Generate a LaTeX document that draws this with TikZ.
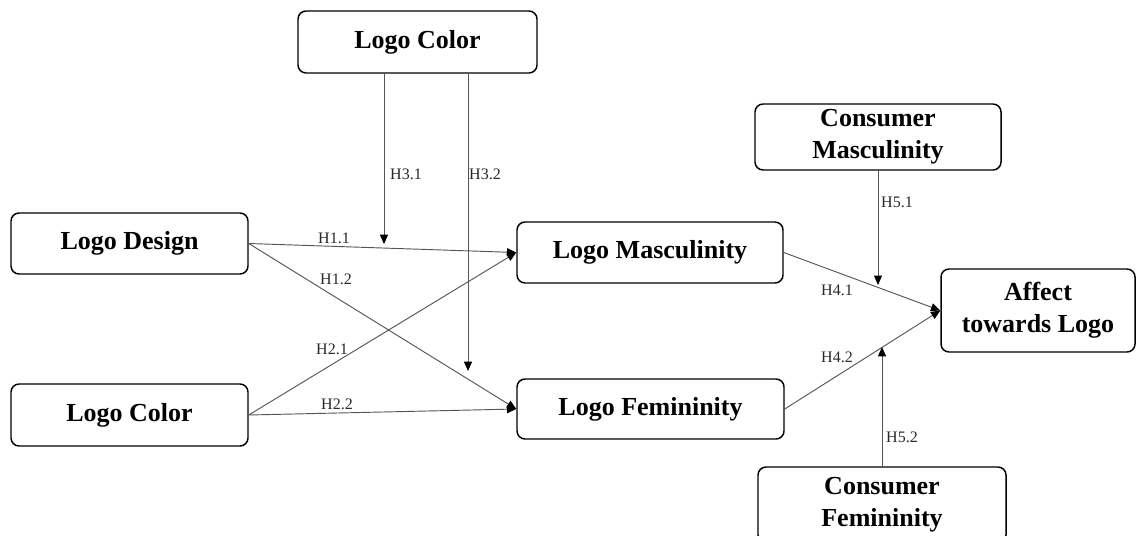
\documentclass[tikz,border=0pt]{standalone}
\usepackage{fontspec}
\setmainfont{Liberation Serif}
\usetikzlibrary{arrows.meta}
\definecolor{linec}{RGB}{85,85,85}
\definecolor{labc}{RGB}{40,40,40}
\begin{document}
\begin{tikzpicture}[x=0.75pt,y=-0.75pt,
  box/.style 2 args={draw=black, line width=1.1pt, rounded corners=6pt,
    font=\fontsize{19.5}{24}\selectfont\bfseries, align=center, inner sep=0pt,
    minimum width=#1*0.75pt, minimum height=#2*0.75pt},
  conn/.style={draw=linec, line width=0.7pt, -{Triangle[length=7pt,width=6pt,black]}},
  lab/.style={font=\fontsize{12}{14}\selectfont, text=labc, inner sep=0pt}]
\useasboundingbox (0,0) rectangle (1137,535);

% boxes
\node[box={239}{62}] (ctop) at (417.5,42) {Logo Color};
\node[box={237}{61}] (design) at (129.5,243.5) {Logo Design};
\node[box={237}{62}] (colorl) at (129.5,415) {Logo Color};
\node[box={266}{61}] (masc) at (650,252.5) {Logo Masculinity};
\node[box={267}{60}] (fem) at (650.5,409) {Logo Femininity};
\node[box={246}{66}] (cmasc) at (878,137) {Consumer\\Masculinity};
\node[box={194}{83}] (affect) at (1038,310.5) {Affect\\towards Logo};
\node[box={248}{76}] (cfem) at (882,505) {Consumer\\Femininity};

% free ends
\coordinate (t31s) at (384,73);
\coordinate (t31e) at (384,244);
\coordinate (t32s) at (468,73);
\coordinate (t32e) at (468,371);
\coordinate (t51e) at (878,285);
\coordinate (t52e) at (882,347);

% connectors
\draw[conn] (design.east) -- (masc.west);
\draw[conn] (design.east) -- (fem.west);
\draw[conn] (colorl.east) -- (masc.west);
\draw[conn] (colorl.east) -- (fem.west);
\draw[conn] (t31s) -- (t31e);
\draw[conn] (t32s) -- (t32e);
\draw[conn] (masc.east) -- (affect.west);
\draw[conn] (fem.east) -- (affect.west);
\draw[conn] (cmasc.south) -- (t51e);
\draw[conn] (cfem.north) -- (t52e);

% labels
\node[lab] (l11) at (334,238) {H1.1};
\node[lab] (l12) at (336,279) {H1.2};
\node[lab] (l21) at (332,349) {H2.1};
\node[lab] (l22) at (337,404) {H2.2};
\node[lab] (l31) at (406,174) {H3.1};
\node[lab] (l32) at (485,174) {H3.2};
\node[lab] (l41) at (837,290) {H4.1};
\node[lab] (l42) at (837,357) {H4.2};
\node[lab] (l51) at (897,202) {H5.1};
\node[lab] (l52) at (902,437) {H5.2};
\end{tikzpicture}
\end{document}
